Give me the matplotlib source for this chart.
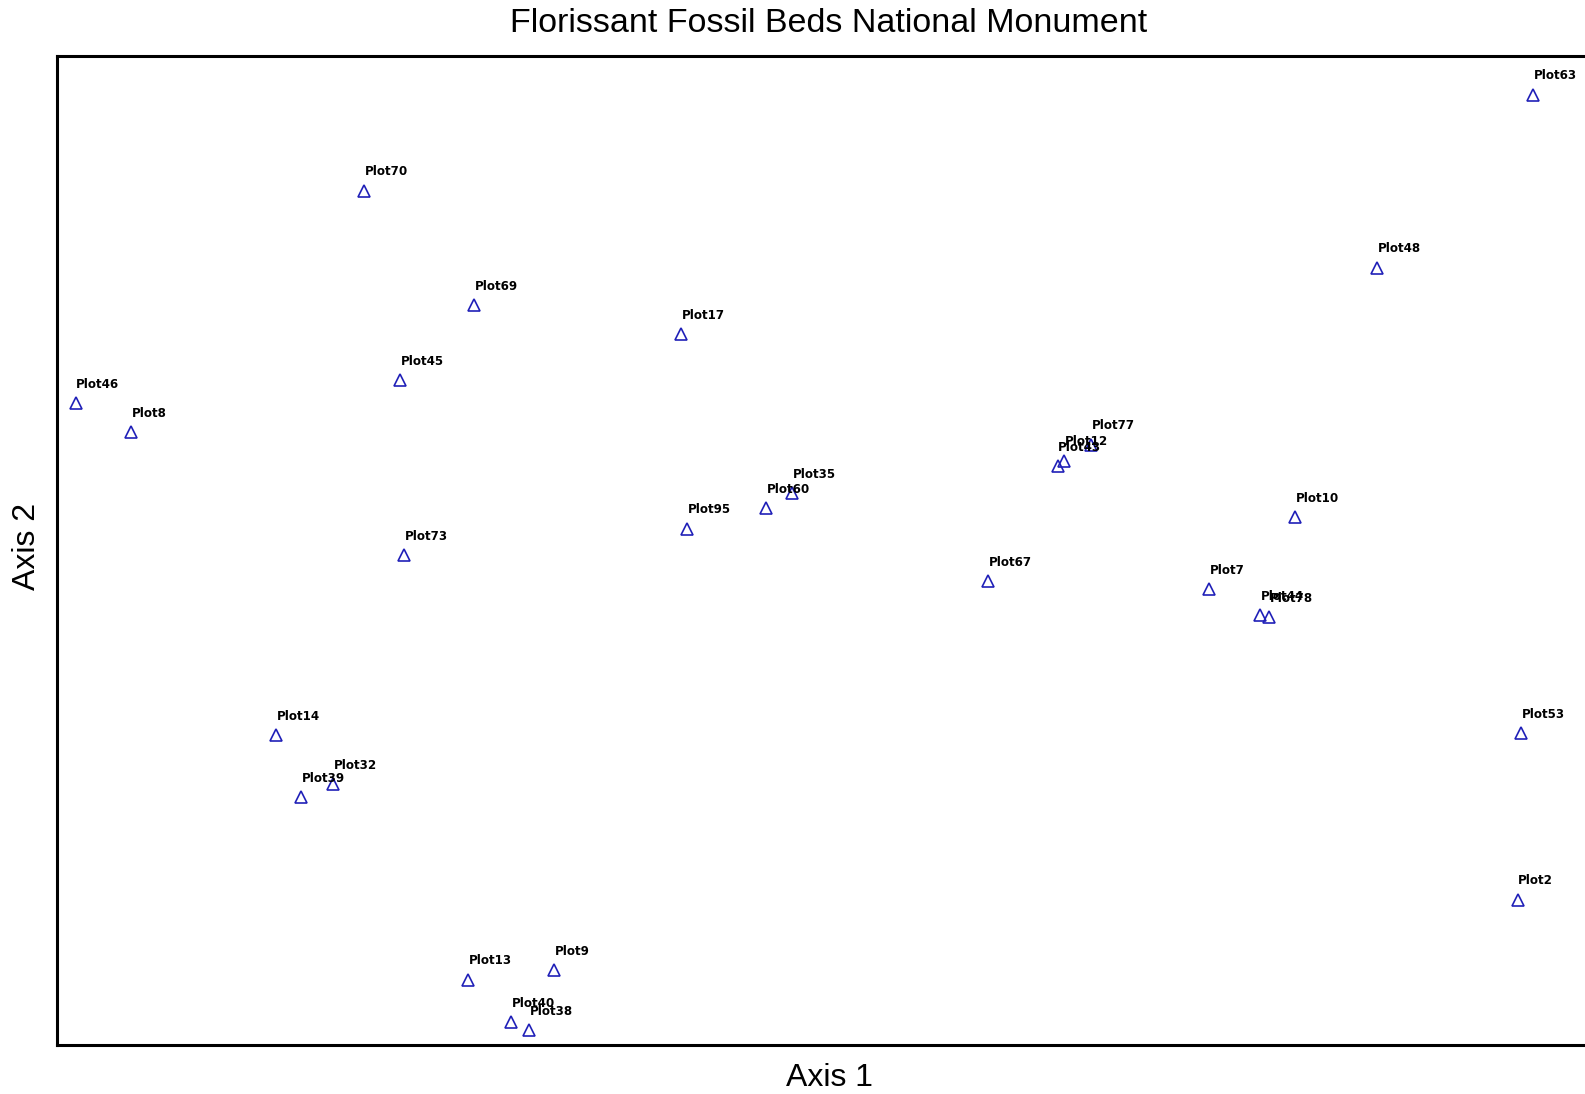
import matplotlib.pyplot as plt

# scores (axis units 0-100)
plots = ['Plot63', 'Plot70', 'Plot48', 'Plot69', 'Plot17', 'Plot45', 'Plot46', 'Plot8',
         'Plot77', 'Plot12', 'Plot43', 'Plot35', 'Plot60', 'Plot10', 'Plot95', 'Plot73',
         'Plot67', 'Plot7', 'Plot44', 'Plot78', 'Plot14', 'Plot53', 'Plot32', 'Plot39',
         'Plot2', 'Plot9', 'Plot13', 'Plot40', 'Plot38']
axis1 = [95.6, 19.9, 85.5, 27.0, 40.4, 22.2, 1.2, 4.8,
         67.0, 65.2, 64.8, 47.6, 45.9, 80.2, 40.8, 22.5,
         60.3, 74.6, 77.9, 78.5, 14.2, 94.8, 17.9, 15.8,
         94.6, 32.2, 26.6, 29.4, 30.6]
axis2 = [96.1, 86.4, 78.6, 74.8, 71.9, 67.2, 64.9, 62.0,
         60.7, 59.1, 58.5, 55.8, 54.3, 53.4, 52.2, 49.5,
         46.9, 46.1, 43.5, 43.3, 31.3, 31.5, 26.4, 25.1,
         14.7, 7.6, 6.6, 2.3, 1.5]

fig = plt.figure(figsize=(15.85, 10.94), dpi=100)
# axes runs off the right edge like in the original export
ax = fig.add_axes([57 / 1585, 1 - 1045 / 1094, 1544 / 1585, 989 / 1094])

ax.plot(axis1, axis2, linestyle='none', marker='^', markersize=9,
        markerfacecolor='none', markeredgecolor='#2020b8', markeredgewidth=1.2)
for name, x, y in zip(plots, axis1, axis2):
    ax.annotate(name, (x, y), xytext=(0.5, 13.5), textcoords='offset points',
                fontsize=8.6, fontweight='bold', color='black', va='center', ha='left')

ax.set_xlim(0, 100)
ax.set_ylim(0, 100)
ax.set_xticks([])
ax.set_yticks([])
for s in ax.spines.values():
    s.set_linewidth(2.2)
    s.set_color('black')

fig.text(829 / 1585, 1 - 24 / 1094, 'Florissant Fossil Beds National Monument',
         family='Liberation Sans', fontsize=24.5, ha='center', va='center')
fig.text(829 / 1585, 1 - 1078 / 1094, 'Axis 1',
         family='Liberation Sans', fontsize=23, ha='center', va='center')
fig.text(27 / 1585, 1 - 546 / 1094, 'Axis 2', rotation=90,
         family='Liberation Sans', fontsize=23, ha='center', va='center')

plt.savefig('out.png', dpi=100)
